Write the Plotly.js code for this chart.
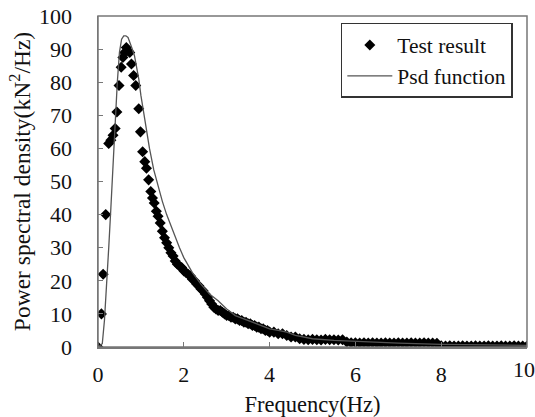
<!DOCTYPE html>
<html>
<head>
<meta charset="utf-8">
<script src="https://cdn.plot.ly/plotly-3.0.1.min.js"></script>
<style>html,body{margin:0;padding:0;background:#fff}#chart{width:535px;height:417px}</style>
</head>
<body>
<div id="chart"></div>
<script>
// Test result (measured PSD)
var testFreq = [0, 0.08, 0.12, 0.18, 0.25, 0.3, 0.35, 0.4, 0.44, 0.49, 0.54, 0.58, 0.62, 0.66, 0.7, 0.74, 0.78, 0.83, 0.88, 0.95, 0.99, 1.04, 1.09, 1.13, 1.18, 1.23, 1.27, 1.31, 1.36, 1.4, 1.45, 1.5, 1.55, 1.6, 1.65, 1.7, 1.75, 1.8, 1.85, 1.9, 1.95, 2.0, 2.05, 2.1, 2.15, 2.2, 2.25, 2.3, 2.35, 2.4, 2.45, 2.5, 2.55, 2.6, 2.65, 2.7, 2.75, 2.8, 2.85, 2.9, 2.95, 3.0, 3.05, 3.1, 3.15, 3.2, 3.25, 3.3, 3.35, 3.4, 3.45, 3.5, 3.55, 3.6, 3.65, 3.7, 3.75, 3.8, 3.85, 3.9, 3.95, 4.0, 4.1, 4.2, 4.3, 4.4, 4.5, 4.6, 4.7, 4.8, 4.9, 5.0, 5.1, 5.2, 5.3, 5.4, 5.5, 5.6, 5.7, 5.8, 5.9, 6.0, 6.1, 6.2, 6.3, 6.4, 6.5, 6.6, 6.7, 6.8, 6.9, 7.0, 7.1, 7.2, 7.3, 7.4, 7.5, 7.6, 7.7, 7.8, 7.9, 8.0, 8.1, 8.2, 8.3, 8.4, 8.5, 8.6, 8.7, 8.8, 8.9, 9.0, 9.1, 9.2, 9.3, 9.4, 9.5, 9.6, 9.7, 9.8, 9.9, 10.0];
var testPsd = [0, 10, 22, 40, 61.5, 62.5, 64, 66, 71, 79, 84.5, 87.5, 89, 90.5, 89.5, 89, 85.5, 82, 79, 72, 65, 59, 56, 54, 50.5, 47, 45, 43.5, 41, 39.5, 37.5, 35, 33, 31.5, 30, 28.5, 27.5, 26, 25, 24.5, 24, 23, 22.5, 22, 21.5, 20.5, 20, 19, 18.5, 17.5, 17, 16, 15, 14, 13, 12, 11.5, 11, 11, 10.5, 10, 9.5, 9.5, 9, 9, 8.5, 8.5, 8, 8, 7.5, 7.5, 7, 7, 6.5, 6.5, 6, 6, 5.5, 5.5, 5, 5, 4.5, 4.5, 4, 4, 3.5, 3, 3, 2.5, 2.3, 2.2, 2.3, 2.2, 2.1, 2.3, 2.2, 2.2, 2.1, 2.2, 1.5, 1.3, 1.3, 1.2, 1.3, 1.2, 1.3, 1.2, 1.2, 1.3, 1.2, 1.2, 1.3, 1.2, 1.2, 1.3, 1.2, 1.2, 1.3, 1.2, 1.2, 1.1, 0.4, 0.3, 0.4, 0.3, 0.3, 0.4, 0.3, 0.3, 0.4, 0.3, 0.3, 0.4, 0.3, 0.3, 0.4, 0.3, 0.3, 0.4, 0.3, 0.3, 0.3];

// Psd function (fitted)
var fitFreq = [0, 0.1, 0.15, 0.2, 0.25, 0.3, 0.35, 0.4, 0.45, 0.5, 0.55, 0.6, 0.65, 0.7, 0.75, 0.8, 0.85, 0.9, 0.95, 1.0, 1.1, 1.2, 1.3, 1.4, 1.5, 1.6, 1.7, 1.8, 1.9, 2.0, 2.2, 2.4, 2.6, 2.8, 3.0, 3.2, 3.4, 3.6, 3.8, 4.0, 4.2, 4.4, 4.6, 4.8, 5.0, 5.5, 6, 7, 8, 9, 10];
var fitPsd = [0, 1, 8, 18, 30, 42, 55, 66, 80, 89, 93, 94, 94, 93.5, 92, 90, 88, 85, 81, 76, 67.5, 60, 53.5, 48.5, 44, 40, 36.5, 33, 30, 27, 22.5, 19, 16, 14, 11.5, 9.5, 8.5, 7.5, 6.5, 5.5, 5, 4.5, 3.5, 3, 2.5, 2, 1.7, 1.2, 0.8, 0.6, 0.5];

var xTicks = [0, 2, 4, 6, 8];
var xTickText = ['0', '2', '4', '6', '8'];
var xEndTick = [10];
var xEndText = ['10'];
var yTicks = [0, 10, 20, 30, 40, 50, 60, 70, 80, 90, 100];
var yTickText = ['0', '10', '20', '30', '40', '50', '60', '70', '80', '90', '100'];

var FONT = "'Liberation Serif', 'Times New Roman', serif";

var traces = [
  {
    x: testFreq, y: testPsd, type: 'scatter', mode: 'markers', name: 'Test result',
    marker: {symbol: 'diamond', size: 8.5, color: '#000'}
  },
  {
    x: fitFreq, y: fitPsd, type: 'scatter', mode: 'lines', name: 'Psd function',
    xaxis: 'x2', yaxis: 'y',
    line: {color: '#555', width: 1.3}
  }
];

var axisCommon = {
  showgrid: false, zeroline: false, showline: true, mirror: false,
  linecolor: '#777', linewidth: 1.5, ticks: 'inside', ticklen: 5, tickcolor: '#777',
  tickfont: {family: FONT, size: 22, color: '#111'}
};

var layout = {
  width: 535, height: 417,
  margin: {l: 98, r: 8, t: 16, b: 70, pad: 0},
  paper_bgcolor: '#fff', plot_bgcolor: '#fff',
  font: {family: FONT, color: '#111'},
  showlegend: true,
  legend: {
    x: 0.566, y: 0.979, xanchor: 'left', yanchor: 'top',
    bgcolor: '#fff', bordercolor: '#333', borderwidth: 1.5,
    itemwidth: 45,
    font: {family: FONT, size: 21.5, color: '#111'}
  },
  shapes: [{
    type: 'rect', xref: 'paper', yref: 'paper', x0: 0, x1: 1, y0: 0, y1: 1,
    line: {color: '#777', width: 1.5}, fillcolor: 'rgba(0,0,0,0)', layer: 'above'
  }],
  xaxis: Object.assign({}, axisCommon, {
    range: [0, 10], tickvals: xTicks, ticktext: xTickText,
    ticklabelstandoff: 7,
    title: {text: 'Frequency(Hz)', font: {family: FONT, size: 22.5, color: '#111'}, standoff: 10}
  }),
  xaxis2: Object.assign({}, axisCommon, {
    overlaying: 'x', anchor: 'y', side: 'bottom', showline: false,
    range: [0, 10], tickvals: xEndTick, ticktext: xEndText,
    ticklabelstandoff: 7, ticklabelshift: -3, ticklabeloverflow: 'allow'
  }),
  yaxis: Object.assign({}, axisCommon, {
    range: [0, 100], tickvals: yTicks, ticktext: yTickText,
    ticklabelstandoff: 20,
    title: {text: 'Power spectral density(kN<sup>2</sup>/Hz)', font: {family: FONT, size: 23.5, color: '#111'}, standoff: 2}
  })
};

Plotly.newPlot('chart', traces, layout, {displayModeBar: false, staticPlot: true});
</script>
</body>
</html>
